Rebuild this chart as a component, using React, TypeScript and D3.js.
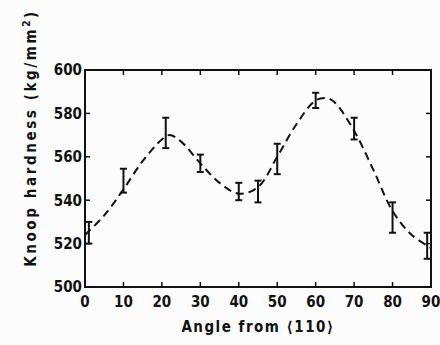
import React from 'react';
import * as d3 from 'd3';

// measured points (mean +/- error)
const angles = [1, 10, 21, 30, 40, 45, 50, 60, 70, 80, 89];
const hardness = [525, 549, 571, 557, 544, 544, 559, 586, 573, 532, 519];
const errors = [5, 5.5, 7, 4, 4, 5, 7, 3.5, 5, 7, 6];

// dashed fit curve
const fitAngles = [0, 5, 10, 15, 20, 22, 25, 30, 35, 40, 45, 50, 55, 60, 63, 65, 70, 75, 80, 85, 90];
const fitValues = [524, 533, 545, 558, 568, 570, 567, 557, 548, 543, 546, 560, 575, 586, 587, 585, 572, 554, 535, 524, 518];

const xTicks = [0, 10, 20, 30, 40, 50, 60, 70, 80, 90];
const yTicks = [500, 520, 540, 560, 580, 600];

const W = 440;
const H = 345;
const left = 85, right = 431, top = 70, bottom = 287;
const font = '"DejaVu Sans Condensed", "DejaVu Sans", sans-serif';
const ink = '#111';

export default function App() {
  const x = d3.scaleLinear().domain([0, 90]).range([left, right]);
  const y = d3.scaleLinear().domain([500, 600]).range([bottom, top]);

  const fitLine = d3.line<number>()
    .x((_, i) => x(fitAngles[i]))
    .y(d => y(d))
    .curve(d3.curveCatmullRom);

  const tickLen = 5;
  const cap = 3.5;

  return (
    <svg width={W} height={H} style={{ position: 'absolute', left: 0, top: 0, background: '#fcfcfc' }}>
      <path d={fitLine(fitValues) || ''} fill="none" stroke={ink} strokeWidth={2} strokeDasharray="8,5" />

      <rect x={left} y={top} width={right - left} height={bottom - top} fill="none" stroke={ink} strokeWidth={2} />

      {xTicks.map(t => (
        <g key={'x' + t} stroke={ink} strokeWidth={1.5}>
          <line x1={x(t)} x2={x(t)} y1={bottom} y2={bottom - tickLen} />
          <line x1={x(t)} x2={x(t)} y1={top} y2={top + tickLen} />
        </g>
      ))}
      {yTicks.map(t => (
        <g key={'y' + t} stroke={ink} strokeWidth={1.5}>
          <line x1={left} x2={left + tickLen} y1={y(t)} y2={y(t)} />
          <line x1={right} x2={right - tickLen} y1={y(t)} y2={y(t)} />
        </g>
      ))}

      {angles.map((a, i) => {
        const cx = x(a);
        const y1 = y(hardness[i] + errors[i]);
        const y2 = y(hardness[i] - errors[i]);
        return (
          <g key={a} stroke={ink} strokeWidth={2}>
            <line x1={cx} x2={cx} y1={y1} y2={y2} />
            <line x1={cx - cap} x2={cx + cap} y1={y1} y2={y1} />
            <line x1={cx - cap} x2={cx + cap} y1={y2} y2={y2} />
          </g>
        );
      })}

      {xTicks.map(t => (
        <text key={'xl' + t} x={x(t)} y={bottom + 20} textAnchor="middle"
          fontFamily={font} fontWeight="bold" fontSize={15} fill={ink}>{t}</text>
      ))}
      {yTicks.map(t => (
        <text key={'yl' + t} x={left - 3} y={y(t)} dy="0.36em" textAnchor="end"
          fontFamily={font} fontWeight="bold" fontSize={15} fill={ink}>{t}</text>
      ))}

      <text x={258} y={332} textAnchor="middle" fontFamily={font} fontWeight="bold"
        fontSize={15} letterSpacing={1.5} fill={ink}>Angle from ⟨110⟩</text>
      <text transform={`translate(36, ${138}) rotate(-90)`} textAnchor="middle" fontFamily={font}
        fontWeight="bold" fontSize={15} letterSpacing={2.6} fill={ink}>
        Knoop hardness (kg/mm<tspan dy={-6} fontSize={10}>2</tspan><tspan dy={6}>)</tspan>
      </text>
    </svg>
  );
}
